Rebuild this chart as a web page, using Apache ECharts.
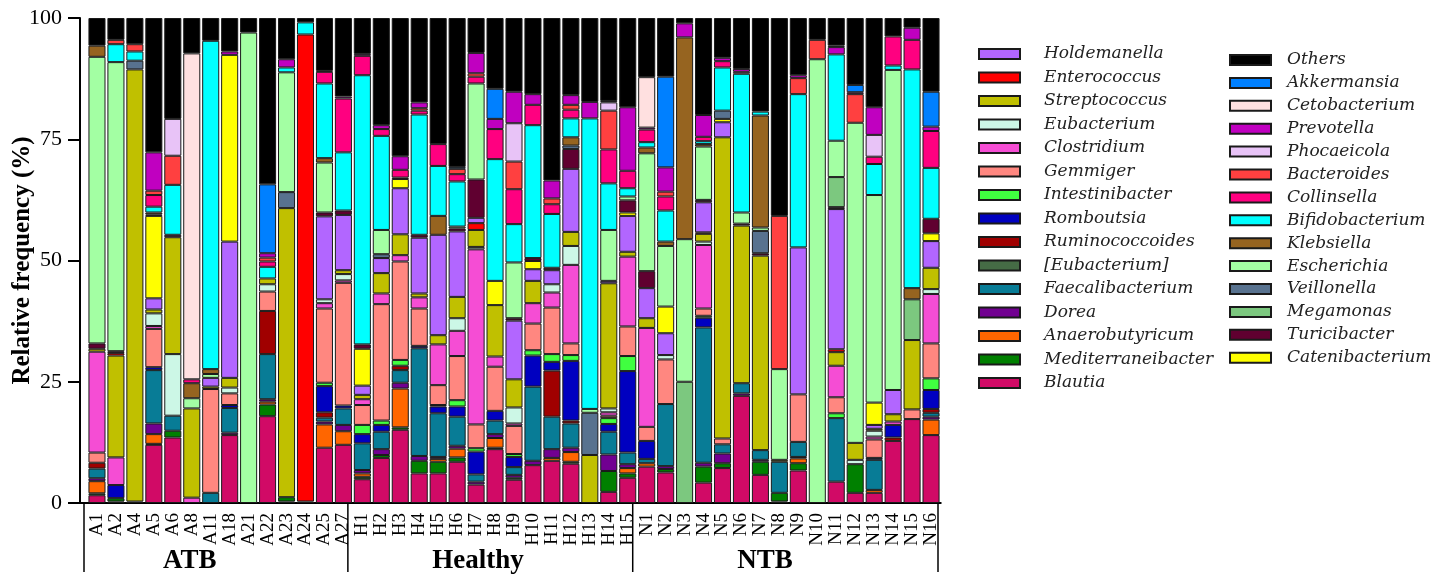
<!DOCTYPE html>
<html>
<head>
<meta charset="utf-8">
<script src="https://cdn.jsdelivr.net/npm/echarts@6/dist/echarts.min.js"></script>
<style>
html,body{margin:0;padding:0;background:#fff;}
#chart{width:1451px;height:579px;}
</style>
</head>
<body>
<div id="chart"></div>
<script>
// ---- categories ----
const samples = ['A1','A2','A4','A5','A6','A8','A11','A18','A21','A22','A23','A24','A25','A27',
  'H1','H2','H3','H4','H5','H6','H7','H8','H9','H10','H11','H12','H13','H14','H15',
  'N1','N2','N3','N4','N5','N6','N7','N8','N9','N10','N11','N12','N13','N14','N15','N16'];
const groupNames = ['ATB','Healthy','NTB'];
const yTicks = [0,25,50,75,100];

// ---- series values (% per sample; ATB | Healthy | NTB) ----
const Blautia = [1.6,0.3,0.3,12.0,13.5,0,0,14.0,0,17.9,0.3,0.3,11.4,12.0,
  4.9,9.3,15.1,6.1,6.1,8.5,3.8,11.1,4.8,7.8,8.7,8.1,0,2.3,5.2,
  7.5,6.3,0,4.2,7.2,22.1,5.8,0.3,6.7,0,4.4,2.1,2.1,12.8,17.3,14.0];
const Mediterraneibacter = [0.4,0.7,0,0.2,1.4,0,0,0,0,2.4,0.9,0,0,0,
  0.5,0.6,0.5,2.6,2.4,0.9,0,0.3,0.4,0,0,0.4,0,4.3,0.9,
  0,0.7,0,3.3,1.0,0,2.7,1.8,1.5,0,0,5.9,0,0,0,0];
const Anaerobutyricum = [2.5,0,0,2.0,0,0,0,0,0,0.6,0,0,4.8,2.8,
  0.7,0,8.0,0,0.6,1.8,0,2.0,0,0,0.6,2.0,0,0,1.1,
  0.7,0,0,0,0,0,0,0,1.0,0,0,0,0.6,0,0,3.2];
const Dorea = [0.6,0,0,2.2,0,0,0,0.5,0,0.5,0,0,0.6,1.3,
  0.7,1.2,1.2,1.0,0.4,0.6,0.6,0.8,0.6,0.9,1.8,0.9,0,3.4,0.8,
  0,0.6,0,0.8,2.0,0.5,0.4,0,0.3,0,0,0,0,0,0,0.6];
const Faecalibacterium = [2.0,0,0,11.0,3.1,0,2.1,5.1,0,9.3,0,0,0.8,3.4,
  5.5,3.6,2.6,22.2,9.0,6.0,1.5,2.8,1.6,15.3,6.7,5.0,0,4.7,2.4,
  0.9,12.8,0,27.9,1.9,2.1,2.0,6.4,3.1,0,13.1,0,6.2,0,0,0.8];
const EubacteriumB = [0,0,0,0,0,0,0,0,0,0,0,0,0,0,
  0,0,0,0,0,0,0,0,0,0,0,0,0,0,0,
  0,0,0,0,0,0,0,0,0,0,0,0,0,0,0,0];
const Ruminococcoides = [1.2,0,0,0,0,0,0,0,0,8.9,0,0,1.1,0,
  0,0,0.9,0,0,0,0,0,0,0,9.5,0.6,0,0,0,
  0,0,0,0,0,0,0,0,0,0,0,0,0,0.7,0,0.8];
const Romboutsia = [0,2.7,0,0.6,0,0,0,0.6,0,0,0,0,5.4,0.6,
  1.9,1.4,0,0.5,1.4,2.1,4.7,2.0,2.1,6.4,1.8,12.3,0,1.6,16.8,
  3.7,0,0,2.0,0,0,0,0,0,0,0,0,0.4,2.6,0,3.9];
const Intestinibacter = [0,0,0,0,0,0,0,0,0,0,0,0,0.7,0,
  1.9,0.9,1.2,0,0.3,1.3,0.7,0,0.6,1.1,1.6,1.2,0,1.2,3.1,
  0,0,0,0.4,0,0,0,0,0,0,1.0,0,0,0,0,2.4];
const Gemmiger = [2.1,0,0,7.9,0,0,21.4,2.4,0,4.0,0,0,15.3,25.3,
  4.1,24.0,20.3,7.7,4.1,9.1,4.9,9.1,5.8,5.5,9.6,2.4,0,0.5,6.1,
  2.9,9.2,0,1.5,1.2,0,0,0,9.8,0,3.3,0,3.8,0,2.0,7.2];
const Clostridium = [20.8,5.7,0,0.6,0,1.1,0,0,0,0,0,0,1.1,0.5,
  1.2,2.2,1.3,2.3,8.4,5.2,36.1,2.1,0.5,4.2,3.1,16.2,0,0.7,14.4,
  20.4,0,0,13.1,0,0,0,0,0,0,6.5,0,0.6,0.7,0,10.2];
const Eubacterium = [0,0,0,2.6,12.7,0,0,1.2,0,1.5,0,0,0.8,1.3,
  0,0,0,0,0,2.6,0.5,0,3.3,0,1.7,3.9,0,0.8,0,
  0,0.9,0,0.7,0,0,0,0,0,0,0,0.9,1.2,0,0,1.0];
const Streptococcus = [0.6,21.0,89.1,0.8,24.1,18.4,0.5,2.0,0,1.2,59.6,0,0,0.8,
  0.9,4.2,4.3,0.8,1.9,4.4,3.5,10.6,5.8,4.6,0,2.9,9.9,25.8,1.0,
  2.0,0,0,1.6,62.1,32.5,40.1,0.4,0,0,2.8,3.5,0.4,1.5,14.3,4.4];
const Enterococcus = [0,0.5,0,0,0,0,0,0,0,0,0,96.3,0,0,
  0,0,0,0,0,0,1.4,0,0,0,0,0,0,0,0,
  0,0,0,0.3,0,0,0,0,0,0,0.6,0,0,0,0,0];
const Holdemanella = [0,0,0,2.3,0,0,1.8,28.1,0,0,0,0,17.1,11.4,
  1.9,3.1,9.5,11.5,20.7,13.5,1.1,0,12.1,2.4,2.9,13.0,0,0.5,7.4,
  6.2,4.5,0,6.2,3.1,0,0,0,30.3,0,28.9,0,0.8,5.0,0,5.5];
const Catenibacterium = [0,0,0,17.0,0,0,0,38.5,0,0,0,0,0,0,
  7.6,0,1.9,0,0,0,0,5.0,0,1.7,0,0,0,0,0.7,
  0,5.5,0,0,0.7,0,0,0,0,0,0,0,4.6,0,0,1.6];
const Turicibacter = [1.1,0.4,0,0.3,0.5,0,0,0,0,0,0,0,0.8,0.9,
  0.9,0,0.3,0.6,0,0.6,7.9,0,0.5,0.6,0.5,4.1,0,0,2.5,
  3.5,0,0,0.5,0,0.4,0.5,0,0,0,0.4,0,0,0,0,3.0];
const Megamonas = [0,0,0,0,0,0,0,0,0,0,0,0,0,0,
  0,0,0,0,0,0,0,0,0,0,0,0,0,0,0,
  0,0,25.0,0,0,0,0,0,0,0,6.2,0,0,0,8.4,0];
const Veillonella = [0,0,1.8,0,0,0,0,0,0,0,3.3,0,0,0,
  0,0.8,0,0,0,0,0,0,0,0,0,0.7,8.7,0,0,
  0,0,0,0,1.7,0,4.6,0,0,0,0,0,0,0,0,0];
const Escherichia = [59.1,59.6,0,0,0,2.1,0.8,0,97.0,0,24.7,0,10.3,0,
  0,5.0,0,0,0,0.4,19.8,0,11.5,0,0,0,0.8,10.5,0.8,
  24.3,12.5,29.4,11.0,0,2.3,0.7,18.7,0,91.5,7.5,66.0,42.8,66.0,0,0];
const Klebsiella = [2.3,0,0,0.4,0,3.1,1.0,0,0,0,0,0,0.9,0,
  0,0,0,0,3.9,0,0,0,0,0,0,1.7,0,0,0,
  1.2,0.9,41.6,0.5,0,0,23.1,0,0,0,0,0,0,0,2.3,0];
const Bifidobacterium = [0,3.7,1.9,1.2,10.3,0,67.7,0,0,2.4,1.0,2.5,15.4,12.0,
  55.5,19.4,0,24.8,10.3,9.3,0,25.1,7.9,27.4,11.1,3.9,59.9,9.6,1.7,
  1.1,6.4,0,0.6,8.9,28.6,0.8,0,31.6,0,17.8,0,6.4,0.9,45.1,10.5];
const Collinsella = [0,0,0,2.4,0,0.8,0,0,0,1.1,0,0,2.4,11.1,
  4.0,1.4,1.6,0.8,4.5,1.5,1.4,6.2,7.2,4.2,2.0,1.8,0,7.0,3.6,
  2.6,2.9,0,0.9,1.3,0,0,0,0,0,0,0,1.5,6.0,6.1,7.6];
const Bacteroides = [0,0.9,1.5,0.9,6.0,0,0,0,0,0.8,0,0,0,0,
  0,0,0,0.5,0,1.1,0.7,0,5.7,0,1.2,1.0,0,8.0,0,
  0,1.0,0,0,0,0,0,31.6,3.3,4.0,0,5.9,0,0,0,0];
const Phocaeicola = [0,0,0,0,7.6,0,0,0,0,0,0,0,0,0,
  0,0,0,0,0,0,0,0,7.9,0,0,0,0,1.7,0,
  0,0,0,0,0,0.4,0,0,0,0,0,0,4.5,0,0,0];
const Prevotella = [0,0,0,7.9,0,0,0,0.7,0,0.9,1.7,0,0.2,0.4,
  0.4,0.8,2.8,1.2,0,0,4.2,2.1,6.5,2.2,3.7,2.0,3.4,0.3,13.1,
  0.4,5.0,2.9,4.5,0.7,0.6,0,0,0.6,0,1.5,0.4,5.7,0,2.5,0.9];
const Cetobacterium = [0,0,0,0,0,67.2,0,0,0,0,0,0,0,0,
  0,0,0,0,0,0,0,0,0,0,0,0,0,0,0,
  10.4,0,0,0,0,0,0,0,0,0,0,0,0,0,0,0];
const Akkermansia = [0,0,0,0,0,0,0,0,0,14.2,0,0,0,0,
  0,0,0,0,0,0.4,0,6.2,0,0,0,0,0,0,0,
  0,18.7,0,0,0,0,0,0,0,0,0.3,1.5,0,0,0,7.2];
const Others = [5.7,4.5,5.4,27.7,20.8,7.3,4.7,6.9,3.0,34.3,8.5,0.9,10.9,16.2,
  7.4,22.1,28.5,17.4,26.0,30.7,7.2,14.6,15.2,15.7,33.5,15.9,17.3,17.1,18.4,
  12.2,12.1,1.1,20.0,8.2,10.5,19.3,40.8,11.8,4.5,5.7,13.8,18.4,3.8,2.0,15.2];

// legend columns (names)
const legendLeft = ['Holdemanella','Enterococcus','Streptococcus','Eubacterium','Clostridium','Gemmiger',
  'Intestinibacter','Romboutsia','Ruminococcoides','[Eubacterium]','Faecalibacterium','Dorea',
  'Anaerobutyricum','Mediterraneibacter','Blautia'];
const legendRight = ['Others','Akkermansia','Cetobacterium','Prevotella','Phocaeicola','Bacteroides',
  'Collinsella','Bifidobacterium','Klebsiella','Escherichia','Veillonella','Megamonas','Turicibacter','Catenibacterium'];

// stacking order bottom -> top, with colours
const stackOrder = [
  ['Blautia', Blautia, '#D10A66'],
  ['Mediterraneibacter', Mediterraneibacter, '#008000'],
  ['Anaerobutyricum', Anaerobutyricum, '#FF6600'],
  ['Dorea', Dorea, '#710091'],
  ['Faecalibacterium', Faecalibacterium, '#087C96'],
  ['[Eubacterium]', EubacteriumB, '#456B45'],
  ['Ruminococcoides', Ruminococcoides, '#A00000'],
  ['Romboutsia', Romboutsia, '#0000C0'],
  ['Intestinibacter', Intestinibacter, '#40FF40'],
  ['Gemmiger', Gemmiger, '#FF8780'],
  ['Clostridium', Clostridium, '#F54DD4'],
  ['Eubacterium', Eubacterium, '#CCF7E6'],
  ['Streptococcus', Streptococcus, '#C0C000'],
  ['Enterococcus', Enterococcus, '#FF0000'],
  ['Holdemanella', Holdemanella, '#B266FF'],
  ['Catenibacterium', Catenibacterium, '#FFFF00'],
  ['Turicibacter', Turicibacter, '#600030'],
  ['Megamonas', Megamonas, '#7CC87F'],
  ['Veillonella', Veillonella, '#58728F'],
  ['Escherichia', Escherichia, '#A3FFA3'],
  ['Klebsiella', Klebsiella, '#966420'],
  ['Bifidobacterium', Bifidobacterium, '#00FFFF'],
  ['Collinsella', Collinsella, '#FF0080'],
  ['Bacteroides', Bacteroides, '#FF4040'],
  ['Phocaeicola', Phocaeicola, '#E8C3F7'],
  ['Prevotella', Prevotella, '#C000C0'],
  ['Cetobacterium', Cetobacterium, '#FFE0E0'],
  ['Akkermansia', Akkermansia, '#0080FF'],
  ['Others', Others, '#000000']
];

const serif = '"Liberation Serif", "Times New Roman", serif';
const chart = echarts.init(document.getElementById('chart'), null, {renderer: 'canvas'});

const series = stackOrder.map(([name, vals, color]) => ({
  name: name,
  type: 'bar',
  stack: 'total',
  xAxisIndex: 0,
  yAxisIndex: 0,
  barCategoryGap: '10%',
  data: vals.map(v => v === 0 ? '-' : v),
  itemStyle: {color: color, borderColor: '#1a1a1a', borderWidth: 1},
  emphasis: {disabled: true}
}));

const legendCommon = {
  orient: 'vertical',
  icon: 'rect',
  itemWidth: 41,
  itemHeight: 10,
  padding: 0,
  selectedMode: false
};
const legendText = pad => ({fontFamily: '"DejaVu Serif", serif', fontStyle: 'italic', fontSize: 17,
  lineHeight: 18, color: '#222', padding: [0, 0, 0, pad]});

const gridTop = 18, gridBottom = 76, gridRight = 510.5;

chart.setOption({
  animation: false,
  backgroundColor: '#fff',
  grid: [
    {left: 87.5, right: gridRight, top: gridTop, bottom: gridBottom, containLabel: false, outerBoundsMode: 'none'},
    {left: 80, right: gridRight, top: gridTop, bottom: gridBottom, containLabel: false, outerBoundsMode: 'none'}
  ],
  legend: [
    Object.assign({}, legendCommon, {data: legendLeft, left: 978, top: 45, itemGap: 5.5, textStyle: legendText(19)}),
    Object.assign({}, legendCommon, {data: legendRight, left: 1229, top: 51, itemGap: 4.9, textStyle: legendText(11)})
  ],
  xAxis: [
    {
      type: 'category',
      gridIndex: 0,
      data: samples,
      axisLine: {lineStyle: {color: '#000', width: 2}},
      axisTick: {alignWithLabel: true, length: 7, lineStyle: {color: '#000', width: 2}},
      axisLabel: {rotate: 90, margin: 10, fontFamily: serif, fontSize: 19, color: '#000', interval: 0}
    },
    {
      type: 'value',
      gridIndex: 1,
      min: 0, max: 1,
      axisLine: {show: true, onZero: false, lineStyle: {color: '#000', width: 2}},
      axisTick: {show: false},
      axisLabel: {show: false},
      splitLine: {show: false}
    }
  ],
  yAxis: [
    {
      type: 'value',
      gridIndex: 0,
      min: yTicks[0], max: yTicks[yTicks.length - 1], interval: 25,
      show: false
    },
    {
      type: 'value',
      gridIndex: 1,
      min: yTicks[0], max: yTicks[yTicks.length - 1], interval: 25,
      name: 'Relative frequency (%)',
      nameLocation: 'middle',
      nameGap: 45,
      nameMoveOverlap: false,
      nameTextStyle: {fontFamily: serif, fontWeight: 'bold', fontSize: 25, color: '#000'},
      axisLine: {show: true, onZero: false, lineStyle: {color: '#000', width: 2}},
      axisTick: {show: true, length: 12, lineStyle: {color: '#000', width: 2}},
      axisLabel: {margin: 18, fontFamily: serif, fontSize: 22, color: '#000'},
      splitLine: {show: false}
    }
  ],
  series: series
});

// group separators, labels and the vertical axis line, positioned through the axes
const px = name => chart.convertToPixel({xAxisIndex: 0}, name);
const band = px(samples[1]) - px(samples[0]);
const lastA = samples.filter(s => s[0] === 'A').pop();
const lastH = samples.filter(s => s[0] === 'H').pop();
const lastN = samples[samples.length - 1];
const y0 = chart.convertToPixel({yAxisIndex: 0}, 0);
const yTop = chart.convertToPixel({yAxisIndex: 0}, yTicks[yTicks.length - 1]);
const axisX = chart.convertToPixel({xAxisIndex: 1}, 0);
const sepX = [px(samples[0]) - band / 2 - 3.5, px(lastA) + band / 2 - 5, px(lastH) + band / 2 - 4.5, px(lastN) + band / 2 - 2.5];
const labelX = [px('A8') - 2, px('H7') + 2, (px('N7') + px('N8')) / 2 - 5];
const graphics = [{type: 'line', shape: {x1: axisX, y1: yTop, x2: axisX, y2: y0 + 1},
  style: {stroke: '#000', lineWidth: 2}, silent: true}];
sepX.forEach(x => graphics.push({type: 'line', shape: {x1: x, y1: y0, x2: x, y2: y0 + 69},
  style: {stroke: '#000', lineWidth: 1.5}, silent: true}));
groupNames.forEach((g, i) => graphics.push({type: 'text', x: labelX[i], y: y0 + 58,
  style: {text: g, fontFamily: serif, fontWeight: 'bold', fontSize: 27, fill: '#000',
    align: 'center', verticalAlign: 'middle'}, silent: true}));
chart.setOption({graphic: graphics});
</script>
</body>
</html>
